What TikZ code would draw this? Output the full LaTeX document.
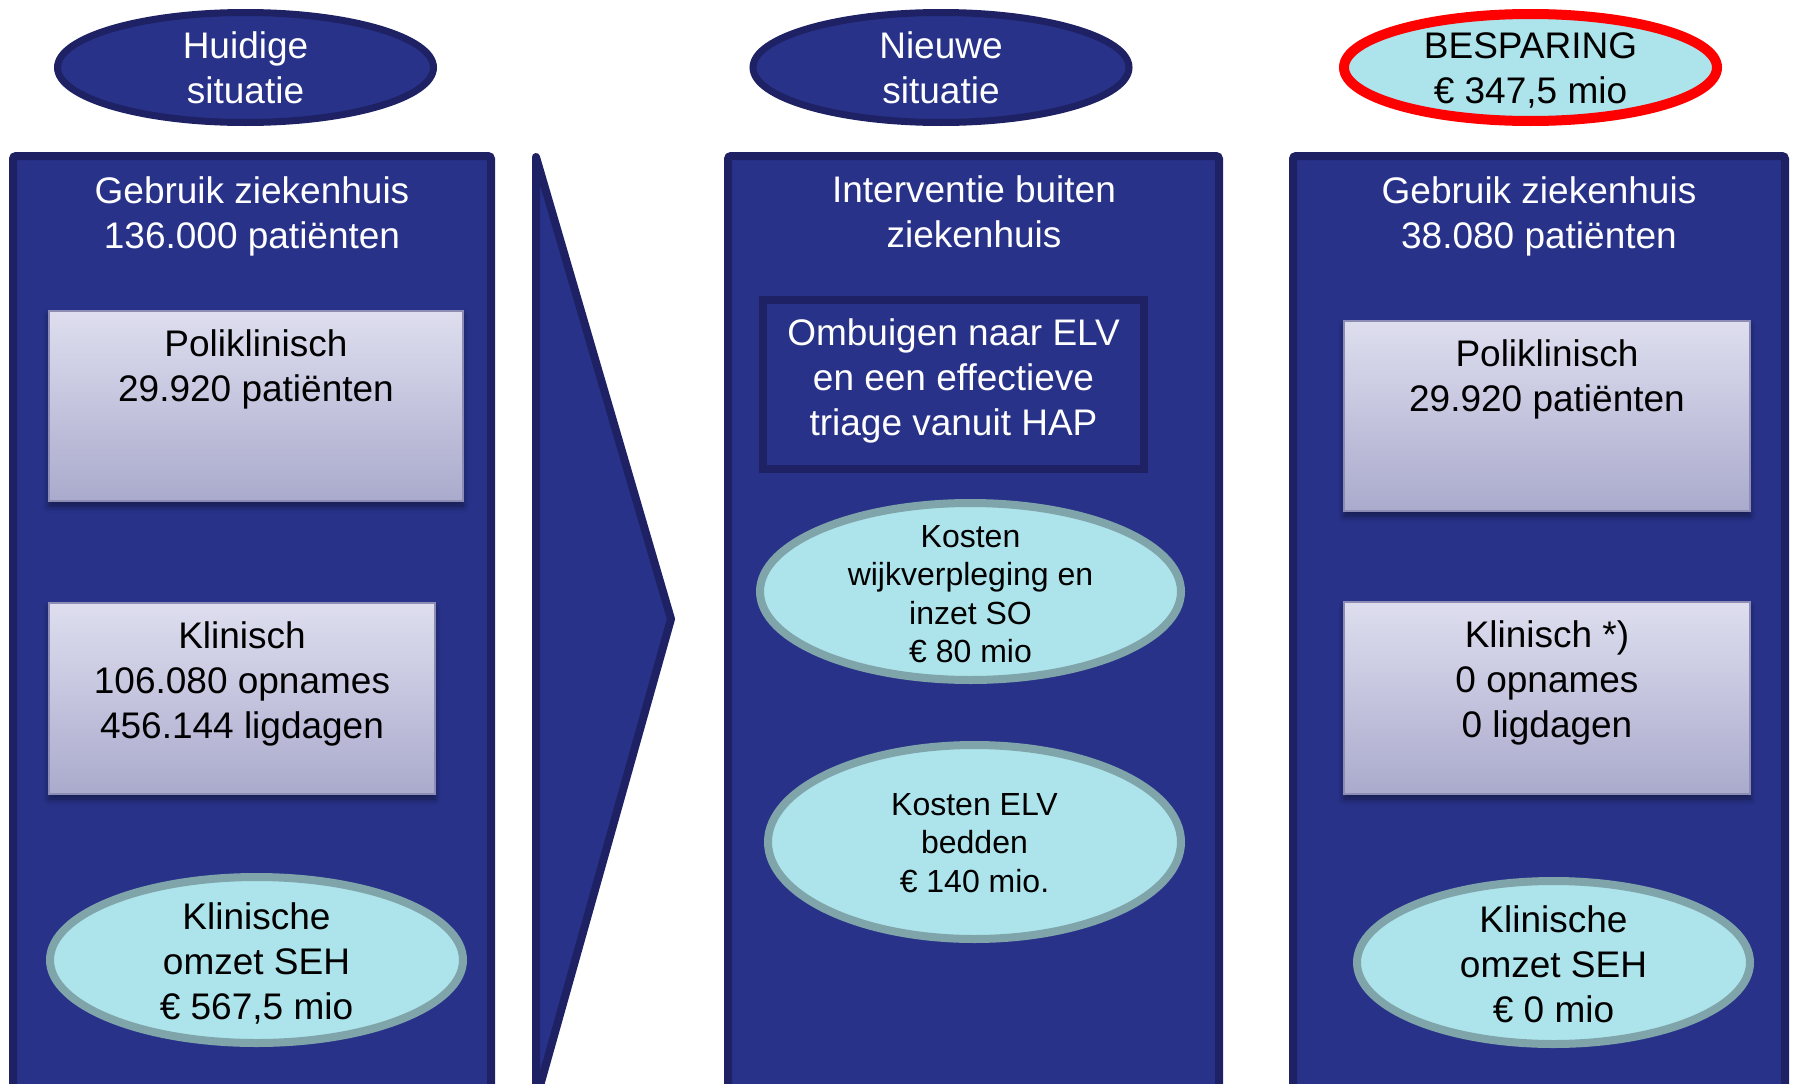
\documentclass[tikz,border=0pt]{standalone}
\usepackage{fontspec}
\setmainfont{Liberation Sans}
\usetikzlibrary{shapes.geometric,shadows,shadows.blur}
\definecolor{navy}{HTML}{283289}
\definecolor{navyline}{HTML}{1E2163}
\definecolor{cyanfill}{HTML}{ADE3EB}
\definecolor{cyanline}{HTML}{7FA4AA}
\definecolor{boxtop}{HTML}{DEDEEF}
\definecolor{boxbot}{HTML}{AAAACD}
\definecolor{boxline}{HTML}{8C8CB4}
\definecolor{redline}{HTML}{FF0000}
\begin{document}
\begin{tikzpicture}[x=1pt,y=-1pt,
  panel/.style={draw=navyline, line width=8pt, fill=navy, rounded corners=3pt, inner sep=0pt},
  headell/.style={ellipse, draw=navyline, line width=7pt, fill=navy, inner sep=0pt, minimum width=376pt, minimum height=110pt},
  saveell/.style={ellipse, draw=redline, line width=10pt, fill=cyanfill, inner sep=0pt, minimum width=373pt, minimum height=107pt},
  costell/.style={ellipse, draw=cyanline, line width=8pt, fill=cyanfill, inner sep=0pt},
  gradbox/.style={draw=boxline, line width=2pt, top color=boxtop, bottom color=boxbot, inner sep=0pt,
     blur shadow={shadow xshift=0pt, shadow yshift=-5pt, shadow blur radius=6pt, shadow blur steps=8, shadow opacity=45}},
  interbox/.style={draw=navyline, line width=8pt, fill=navy, inner sep=0pt},
  bigtxt/.style={font=\fontsize{37}{45}\selectfont, align=center, inner sep=0pt},
  smalltxt/.style={font=\fontsize{32}{38.5}\selectfont, align=center, inner sep=0pt},
  wtxt/.style={bigtxt, text=white},
  btxt/.style={bigtxt, text=black}
]
\useasboundingbox (0,0) rectangle (1794,1084);
\clip (0,0) rectangle (1794,1084);

% header ellipses
\node[headell] (hHuidig) at (245.5,67.5) {};
\node[wtxt] (tHuidig) at (245.5,68) {Huidige\\situatie};
\node[headell] (hNieuw) at (941,67.5) {};
\node[wtxt] (tNieuw) at (941,68) {Nieuwe\\situatie};
\node[saveell] (hBesp) at (1530.5,67.5) {};
\node[btxt] (tBesp) at (1530.5,70.5) {BESPARING\\€ 347,5 mio};

% panels
\node[panel, minimum width=478pt, minimum height=944pt] (pLeft) at (252,628) {};
\node[panel, minimum width=491pt, minimum height=944pt] (pMid) at (973.5,628) {};
\node[panel, minimum width=492pt, minimum height=944pt] (pRight) at (1539,628) {};

% chevron
\draw[draw=navyline, line width=8pt, fill=navy, line join=round] (536,157) -- (671,619) -- (536,1100) -- cycle;

% left panel content
\node[wtxt] (tLeft) at (252,216) {Gebruik ziekenhuis\\136.000 patiënten};
\node[gradbox, minimum width=414pt, minimum height=190pt] (bPoliL) at (256,406) {};
\node[btxt] (tPoliL) at (256,369) {Poliklinisch\\29.920 patiënten};
\node[gradbox, minimum width=386pt, minimum height=191pt] (bKlinL) at (242,698.5) {};
\node[btxt] (tKlinL) at (242,684) {Klinisch\\106.080 opnames\\456.144 ligdagen};
\node[costell, minimum width=413pt, minimum height=166pt] (eSehL) at (256.5,960) {};
\node[btxt] (tSehL) at (256.5,963) {Klinische\\omzet SEH\\€ 567,5 mio};

% middle panel content
\node[wtxt] (tMid) at (974,212) {Interventie buiten\\ziekenhuis};
\node[interbox, minimum width=381pt, minimum height=169pt] (bOmb) at (953.5,384.5) {};
\node[wtxt] (tOmb) at (953.5,381) {Ombuigen naar ELV\\en een effectieve\\triage vanuit HAP};
\node[costell, minimum width=421pt, minimum height=177pt] (eWijk) at (970.5,591.5) {};
\node[smalltxt] (tWijk) at (970.5,594) {Kosten\\wijkverpleging en\\inzet SO\\€ 80 mio};
\node[costell, minimum width=413pt, minimum height=194pt] (eElv) at (974.5,842) {};
\node[smalltxt] (tElv) at (974.5,843) {Kosten ELV\\bedden\\€ 140 mio.};

% right panel content
\node[wtxt] (tRight) at (1539,216) {Gebruik ziekenhuis\\38.080 patiënten};
\node[gradbox, minimum width=406pt, minimum height=190pt] (bPoliR) at (1547,416) {};
\node[btxt] (tPoliR) at (1547,379) {Poliklinisch\\29.920 patiënten};
\node[gradbox, minimum width=406pt, minimum height=192pt] (bKlinR) at (1547,698) {};
\node[btxt] (tKlinR) at (1547,683) {Klinisch *)\\0 opnames\\0 ligdagen};
\node[costell, minimum width=393pt, minimum height=163pt] (eSehR) at (1553.5,962.5) {};
\node[btxt] (tSehR) at (1553.5,964) {Klinische\\omzet SEH\\€ 0 mio};
\end{tikzpicture}
\end{document}
